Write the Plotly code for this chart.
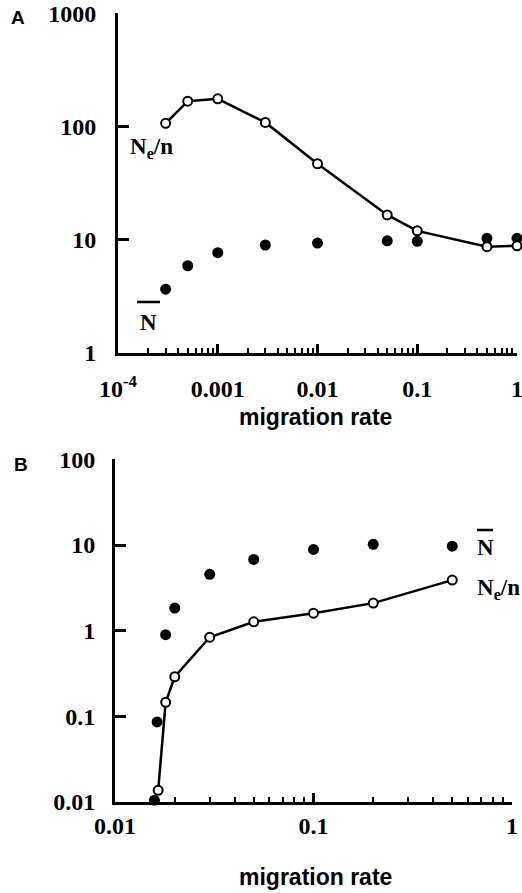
import plotly.graph_objects as go

# ---- Panel A data ----
a_mig_ne = [3e-4, 5e-4, 0.001, 0.003, 0.01, 0.05, 0.1, 0.5, 1.0]
a_ne_n = [107, 168, 176, 109, 47, 16.6, 12.0, 8.7, 8.85]
a_mig_nbar = [3e-4, 5e-4, 0.001, 0.003, 0.01, 0.05, 0.1, 0.5, 1.0]
a_nbar = [3.66, 5.9, 7.7, 9.0, 9.35, 9.8, 9.7, 10.3, 10.3]

# ---- Panel B data ----
b_mig_ne = [0.0165, 0.018, 0.02, 0.03, 0.05, 0.1, 0.2, 0.5]
b_ne_n = [0.0137, 0.146, 0.29, 0.84, 1.27, 1.6, 2.1, 3.9]
b_mig_nbar = [0.0158, 0.0163, 0.018, 0.02, 0.03, 0.05, 0.1, 0.2, 0.5]
b_nbar = [0.0105, 0.086, 0.9, 1.84, 4.56, 6.8, 8.9, 10.2, 9.7]

a_xticks = [1e-4, 1e-3, 1e-2, 1e-1, 1]
a_xticktext = ["10<sup>-4</sup>", "0.001", "0.01", "0.1", "1"]
a_yticks = [1, 10, 100, 1000]
a_yticktext = ["1", "10", "100", "1000"]
b_xticks = [0.01, 0.1, 1]
b_xticktext = ["0.01", "0.1", "1"]
b_yticks = [0.01, 0.1, 1, 10, 100]
b_yticktext = ["0.01", "0.1", "1", "10", "100"]

W, H = 522, 893
def px(x):
    return x / W
def py(y):
    return 1 - y / H

fig = go.Figure()

filled = dict(color="black", size=11)
opened = dict(color="white", size=9, line=dict(color="black", width=2))

fig.add_trace(go.Scatter(x=a_mig_nbar, y=a_nbar, mode="markers", marker=filled,
                         xaxis="x", yaxis="y", cliponaxis=False, showlegend=False))
fig.add_trace(go.Scatter(x=a_mig_ne, y=a_ne_n, mode="lines+markers", marker=opened,
                         line=dict(color="black", width=2.5),
                         xaxis="x", yaxis="y", cliponaxis=False, showlegend=False))
fig.add_trace(go.Scatter(x=b_mig_nbar, y=b_nbar, mode="markers", marker=filled,
                         xaxis="x2", yaxis="y2", cliponaxis=False, showlegend=False))
fig.add_trace(go.Scatter(x=b_mig_ne, y=b_ne_n, mode="lines+markers", marker=opened,
                         line=dict(color="black", width=2.5),
                         xaxis="x2", yaxis="y2", cliponaxis=False, showlegend=False))

tickfont = dict(family="Liberation Serif", size=24, color="black", weight="bold")
titlefont = dict(family="Liberation Sans", size=23, color="black", weight="bold")

common = dict(type="log", showgrid=False, zeroline=False, showline=True,
              linecolor="black", linewidth=3, ticks="inside", tickcolor="black",
              tickwidth=2.5, tickfont=tickfont, tickmode="array",
              automargin=False, ticklabeloverflow="allow")

xminor = dict(ticks="inside", ticklen=5, tickwidth=1.5, tickcolor="black",
              dtick="D1", showgrid=False)

fig.update_layout(
    width=W, height=H,
    margin=dict(l=0, r=0, t=0, b=0),
    paper_bgcolor="white", plot_bgcolor="white",
    xaxis=dict(**common, domain=[px(118), px(517)], range=[-4, 0], ticklen=9,
               tickvals=a_xticks, ticktext=a_xticktext, anchor="y",
               minor=xminor, ticklabelstandoff=12),
    yaxis=dict(**common, domain=[py(353), py(13)], range=[0, 3.004], ticklen=11,
               tickvals=a_yticks, ticktext=a_yticktext, anchor="x",
               ticklabelstandoff=14),
    xaxis2=dict(**common, domain=[px(115), px(512)], range=[-2, 0], ticklen=9,
                tickvals=b_xticks, ticktext=b_xticktext, anchor="y2",
                minor=xminor),
    yaxis2=dict(**common, domain=[py(802), py(459)], range=[-2, 2.005], ticklen=11,
                tickvals=b_yticks, ticktext=b_yticktext, anchor="x2",
                ticklabelstandoff=12),
)

ann = []
def label(text, x, y, font, xanchor="center", yanchor="middle"):
    ann.append(dict(text=text, x=px(x), y=py(y), xref="paper", yref="paper",
                    showarrow=False, font=font, xanchor=xanchor, yanchor=yanchor))

serif = dict(family="Liberation Serif", size=23, color="black", weight="bold")
letter = dict(family="Liberation Sans", size=19, color="black", weight="bold")

label("A", 18, 18, letter)
label("B", 21, 464, letter)
label("migration rate", 315, 417, titlefont)
label("migration rate", 315, 877, titlefont)
# Panel A curve labels
label("N<sub>e</sub>/n", 128, 148, serif, xanchor="left")
label("N", 148, 322, serif)
# Panel B curve labels
label("N", 485, 547, serif)
label("N<sub>e</sub>/n", 475, 589, serif, xanchor="left")

fig.update_layout(annotations=ann)

# overbars for the N-bar labels
for x0, x1, y in [(137, 160, 302), (477, 493, 530)]:
    fig.add_shape(type="line", xref="paper", yref="paper",
                  x0=px(x0), x1=px(x1), y0=py(y), y1=py(y),
                  line=dict(color="black", width=2.5))

fig.write_html("out.html")
